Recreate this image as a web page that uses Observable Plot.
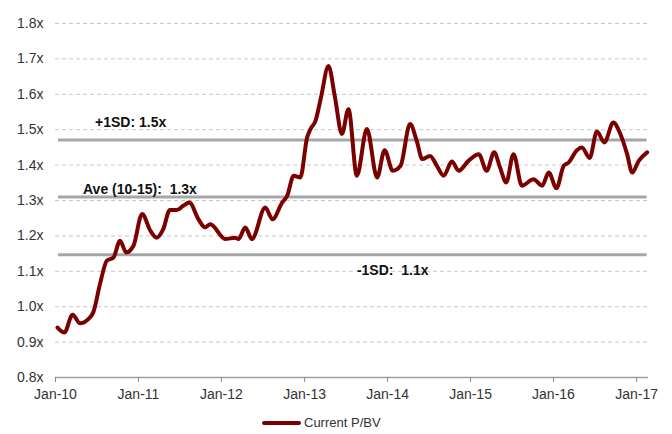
<!DOCTYPE html>
<html>
<head>
<meta charset="utf-8">
<script src="https://cdn.jsdelivr.net/npm/d3@7"></script>
<script src="https://cdn.jsdelivr.net/npm/@observablehq/plot@0.6"></script>
<style>
  html, body { margin: 0; padding: 0; background: #fff; }
  body { width: 672px; height: 434px; overflow: hidden; font-family: "Liberation Sans", Arial, sans-serif; }
  #legend { position: relative; height: 26px; }
  #legend .sw { position: absolute; left: 262px; top: 13px; width: 39px; height: 4px; background: #7b0000; border-radius: 2px; }
  #legend .lb { position: absolute; left: 304px; top: 7px; font-size: 13px; color: #333; }
</style>
</head>
<body>
<div id="chart"></div>
<div id="legend"><span class="sw"></span><span class="lb">Current P/BV</span></div>
<script>
// Series: Current P/BV (read at turning points of the line)
const dates = [
  "2010-01-10","2010-02-09","2010-03-17","2010-04-19","2010-06-02","2010-06-16","2010-07-16","2010-08-15",
  "2010-09-13","2010-10-12","2010-11-08","2010-12-10","2011-01-17","2011-02-23","2011-03-22","2011-04-20",
  "2011-05-19","2011-06-18","2011-07-17","2011-08-13","2011-09-22","2011-10-21","2011-11-13","2012-01-18",
  "2012-03-01","2012-03-16","2012-04-15","2012-05-14","2012-07-12","2012-08-13","2012-09-24","2012-10-16",
  "2012-11-14","2012-12-13","2013-01-12","2013-01-27","2013-02-18","2013-03-14","2013-04-16","2013-05-15",
  "2013-06-14","2013-07-13","2013-08-19","2013-10-02","2013-11-16","2013-12-19","2014-01-24","2014-02-27",
  "2014-04-10","2014-05-09","2014-06-03","2014-07-07","2014-08-06","2014-09-05","2014-10-11","2014-11-10",
  "2014-12-23","2015-02-06","2015-03-13","2015-04-15","2015-05-11","2015-06-07","2015-07-09","2015-08-15",
  "2015-10-05","2015-11-12","2015-12-11","2016-01-14","2016-02-15","2016-03-07","2016-04-13","2016-05-05",
  "2016-06-08","2016-07-10","2016-08-12","2016-09-20","2016-10-21","2016-11-20","2016-12-12","2017-01-10",
  "2017-02-16"
];
const pbv = [
  0.941,0.927,0.977,0.953,0.970,0.984,1.065,1.130,
  1.139,1.186,1.153,1.172,1.262,1.214,1.195,1.219,
  1.273,1.273,1.285,1.294,1.247,1.224,1.233,1.191,
  1.195,1.191,1.224,1.191,1.280,1.247,1.294,1.313,
  1.370,1.365,1.478,1.502,1.525,1.591,1.680,1.590,
  1.488,1.558,1.370,1.502,1.365,1.442,1.384,1.398,
  1.516,1.469,1.417,1.426,1.398,1.370,1.410,1.384,
  1.412,1.431,1.384,1.436,1.393,1.351,1.431,1.342,
  1.360,1.342,1.379,1.335,1.398,1.407,1.442,1.450,
  1.420,1.495,1.464,1.520,1.488,1.431,1.379,1.412,
  1.436
];

// Reference bands
const refNames = ["+1SD", "Ave (10-15)", "-1SD"];
const refValues = [1.471, 1.310, 1.147];
const refLabels = ["+1SD: 1.5x", "Ave (10-15):  1.3x", "-1SD:  1.1x"];
const refLabelDates = ["2010-06-24", "2010-05-02", "2013-08-19"];
const refLabelValues = [1.519, 1.330, 1.101];

// Axis ticks
const yTicks = [0.8, 0.9, 1.0, 1.1, 1.2, 1.3, 1.4, 1.5, 1.6, 1.7, 1.8];
const xTickYears = [2010, 2011, 2012, 2013, 2014, 2015, 2016, 2017];

const series = dates.map((d, i) => ({date: new Date(d), value: pbv[i]}));
const refs = refValues.map((v, i) => ({name: refNames[i], value: v}));
const labels = refLabels.map((t, i) => ({text: t, date: new Date(refLabelDates[i]), value: refLabelValues[i]}));
const xTicks = xTickYears.map(y => new Date(Date.UTC(y, 0, 1)));

const chart = Plot.plot({
  width: 672,
  height: 408,
  marginLeft: 55,
  marginRight: 24,
  marginTop: 23,
  marginBottom: 31,
  style: {fontFamily: "'Liberation Sans', Arial, sans-serif", fontSize: "14px", color: "#333", background: "#fff"},
  x: {type: "utc", domain: [new Date("2010-01-01"), new Date("2017-02-22")]},
  y: {domain: [0.8, 1.8]},
  marks: [
    Plot.gridY(yTicks.filter(d => d > 0.8), {stroke: "#c8c8c8", strokeOpacity: 1, strokeDasharray: "4,3"}),
    Plot.ruleY(refs, {y: "value", x1: new Date("2010-01-14"), x2: new Date("2017-02-16"), stroke: "#a6a6a6", strokeWidth: 3}),
    Plot.ruleY([0.8], {stroke: "#a0a0a0", strokeWidth: 1.5}),
    Plot.axisY({ticks: yTicks, tickSize: 0, tickPadding: 12, tickFormat: d => d.toFixed(1) + "x", label: null, fill: "#333", fontSize: 14}),
    Plot.axisX({ticks: xTicks, tickSize: 5, tickPadding: 7, stroke: "#888", tickFormat: d3.utcFormat("%b-%y"), label: null, fill: "#333", fontSize: 14}),
    Plot.line(series, {x: "date", y: "value", stroke: "#7b0000", strokeWidth: 4, curve: "monotone-x"}),
    Plot.text(labels, {x: "date", y: "value", text: "text", textAnchor: "start", fontWeight: "bold", fontSize: 14, fill: "#111"})
  ]
});
document.getElementById("chart").appendChild(chart);
</script>
</body>
</html>
